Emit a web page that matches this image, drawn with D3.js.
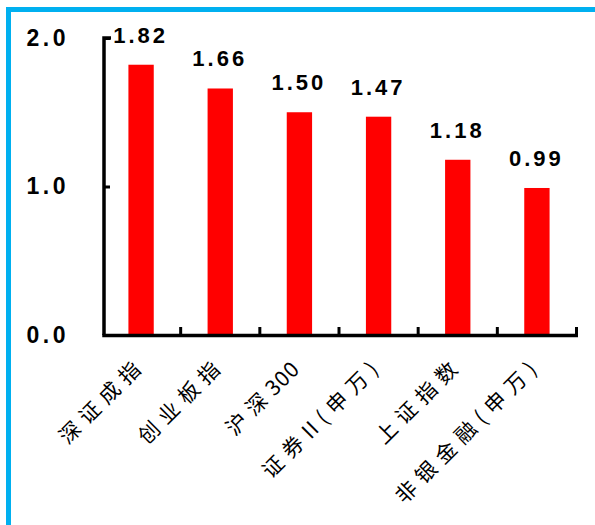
<!DOCTYPE html>
<html>
<head>
<meta charset="utf-8">
<script src="https://cdn.jsdelivr.net/npm/d3@7"></script>
<style>
  body { margin: 0; background: #fff; }
</style>
</head>
<body>
<div id="chart"></div>
<script>
const categories = ['深证成指', '创业板指', '沪深300', '证券II(申万)', '上证指数', '非银金融(申万)'];
const values = [1.82, 1.66, 1.50, 1.47, 1.18, 0.99];
const yTicks = [0, 1, 2];

const W = 595, H = 525;
const svg = d3.select('#chart').append('svg')
  .attr('width', W)
  .attr('height', H);

// blue frame, top and left only
svg.append('rect').attr('x', 6).attr('y', 7).attr('width', W - 6).attr('height', 5).attr('fill', '#00b0f0');
svg.append('rect').attr('x', 6).attr('y', 7).attr('width', 5).attr('height', H - 7).attr('fill', '#00b0f0');

const x0 = 101.5, x1 = 576.5;
const axisX = 104;
const y0 = 335, yTop = 38;

const xScale = d3.scaleBand()
  .domain(categories)
  .range([x0, x1])
  .paddingInner(0.68)
  .paddingOuter(0.34);

const yScale = d3.scaleLinear()
  .domain([0, 2])
  .range([y0, yTop]);

const numFont = '"Liberation Sans", Arial, sans-serif';

// bars
svg.append('g')
  .selectAll('rect')
  .data(values)
  .join('rect')
  .attr('x', (d, i) => xScale(categories[i]))
  .attr('y', d => yScale(d))
  .attr('width', xScale.bandwidth())
  .attr('height', d => y0 - yScale(d))
  .attr('fill', '#ff0000');

// value labels
svg.append('g')
  .attr('font-family', numFont)
  .attr('font-size', 22)
  .attr('font-weight', 'bold')
  .attr('letter-spacing', 3)
  .attr('text-anchor', 'middle')
  .selectAll('text')
  .data(values)
  .join('text')
  .attr('x', (d, i) => xScale(categories[i]) + xScale.bandwidth() / 2 - 0.5)
  .attr('y', d => yScale(d) - 22)
  .text(d => d.toFixed(2));

// y axis
const yAxis = d3.axisLeft(yScale)
  .tickValues(yTicks)
  .tickSizeInner(-6)
  .tickSizeOuter(0)
  .tickPadding(35)
  .tickFormat(d3.format('.1f'));

svg.append('g')
  .attr('transform', `translate(${axisX},0)`)
  .call(yAxis)
  .call(g => g.selectAll('.domain').attr('stroke-width', 3.5).attr('d', `M7,${yTop}H0V${y0}`))
  .call(g => g.selectAll('.tick line').attr('stroke-width', 3))
  .call(g => g.selectAll('.tick text')
    .attr('font-family', numFont)
    .attr('font-size', 23)
    .attr('font-weight', 'bold')
    .attr('letter-spacing', 3.5)
    .attr('fill', '#000'));

svg.selectAll('.tick').filter(d => d === 0).select('line').remove();

// x axis line with ticks at band edges
const step = xScale.step();
svg.append('line')
  .attr('x1', axisX - 1.75).attr('x2', x1 + 1.5)
  .attr('y1', y0 + 0.5).attr('y2', y0 + 0.5)
  .attr('stroke', '#000').attr('stroke-width', 3.5);

svg.append('g')
  .selectAll('line')
  .data(d3.range(1, categories.length + 1))
  .join('line')
  .attr('x1', i => x0 + i * step)
  .attr('x2', i => x0 + i * step)
  .attr('y1', y0)
  .attr('y2', y0 - 8)
  .attr('stroke', '#000')
  .attr('stroke-width', 3);

// category labels rotated; tight spacing only inside runs of latin letters / digits
const isAlnum = c => /[0-9A-Za-z]/.test(c);

svg.append('g')
  .attr('font-family', '"Noto Sans CJK SC", sans-serif')
  .attr('font-size', 21)
  .attr('text-anchor', 'end')
  .selectAll('text')
  .data(categories)
  .join('text')
  .attr('transform', d => `translate(${xScale(d) + xScale.bandwidth() / 2 + 6},${y0 + 31}) rotate(-45)`)
  .selectAll('tspan')
  .data(d => Array.from(d).map((c, i, arr) => ({ c, next: arr[i + 1] })))
  .join('tspan')
  .attr('letter-spacing', d => isAlnum(d.c) && d.next && isAlnum(d.next) ? 1 : 7)
  .text(d => d.c);
</script>
</body>
</html>
